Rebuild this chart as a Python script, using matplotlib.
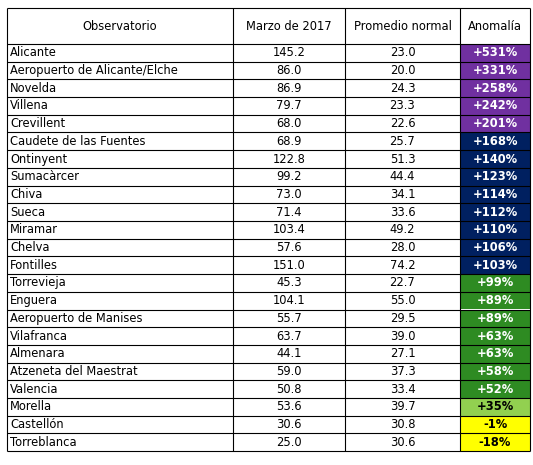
import matplotlib.pyplot as plt
from matplotlib.patches import Rectangle

observatorios = ["Alicante", "Aeropuerto de Alicante/Elche", "Novelda", "Villena",
                 "Crevillent", "Caudete de las Fuentes", "Ontinyent", "Sumacàrcer",
                 "Chiva", "Sueca", "Miramar", "Chelva", "Fontilles", "Torrevieja",
                 "Enguera", "Aeropuerto de Manises", "Vilafranca", "Almenara",
                 "Atzeneta del Maestrat", "Valencia", "Morella", "Castellón", "Torreblanca"]
marzo_2017 = [145.2, 86.0, 86.9, 79.7, 68.0, 68.9, 122.8, 99.2, 73.0, 71.4, 103.4,
              57.6, 151.0, 45.3, 104.1, 55.7, 63.7, 44.1, 59.0, 50.8, 53.6, 30.6, 25.0]
promedio = [23.0, 20.0, 24.3, 23.3, 22.6, 25.7, 51.3, 44.4, 34.1, 33.6, 49.2,
            28.0, 74.2, 22.7, 55.0, 29.5, 39.0, 27.1, 37.3, 33.4, 39.7, 30.8, 30.6]
anomalia = [531, 331, 258, 242, 201, 168, 140, 123, 114, 112, 110, 106, 103,
            99, 89, 89, 63, 63, 58, 52, 35, -1, -18]
cabecera = ["Observatorio", "Marzo de 2017", "Promedio normal", "Anomalía"]


def color_anomalia(v):
    if v >= 200:
        return "#7030A0", "white"
    if v >= 100:
        return "#002060", "white"
    if v >= 50:
        return "#2E8B22", "white"
    if v >= 0:
        return "#92D050", "black"
    return "#FFFF00", "black"


fig = plt.figure(figsize=(5.33, 4.65), dpi=100)
ax = fig.add_axes([0, 0, 1, 1])
ax.set_xlim(0, 533)
ax.set_ylim(465, 0)
ax.axis("off")

cols = [7, 233, 345, 460, 530]
top, head_h, row_h = 8, 36, 17.7
fs = 8.3

# Cabecera
for i, t in enumerate(cabecera):
    ax.text((cols[i] + cols[i + 1]) / 2, top + head_h / 2, t, ha="center", va="center", fontsize=fs)

for r, nombre in enumerate(observatorios):
    y0 = top + head_h + r * row_h
    yc = y0 + row_h / 2
    bg, fg = color_anomalia(anomalia[r])
    ax.add_patch(Rectangle((cols[3], y0), cols[4] - cols[3], row_h, color=bg, lw=0))
    ax.text(cols[0] + 3, yc, nombre, ha="left", va="center", fontsize=fs)
    ax.text((cols[1] + cols[2]) / 2, yc, f"{marzo_2017[r]:.1f}", ha="center", va="center", fontsize=fs)
    ax.text((cols[2] + cols[3]) / 2, yc, f"{promedio[r]:.1f}", ha="center", va="center", fontsize=fs)
    ax.text((cols[3] + cols[4]) / 2, yc, f"{anomalia[r]:+d}%", ha="center", va="center",
            fontsize=fs, color=fg, fontweight="semibold")

bottom = top + head_h + len(observatorios) * row_h
ax.hlines([top + head_h + k * row_h for k in range(len(observatorios) + 1)] + [top],
          cols[0], cols[-1], color="black", lw=0.8)
ax.vlines(cols, top, bottom, color="black", lw=0.8)

fig.savefig("out.png", dpi=100)
